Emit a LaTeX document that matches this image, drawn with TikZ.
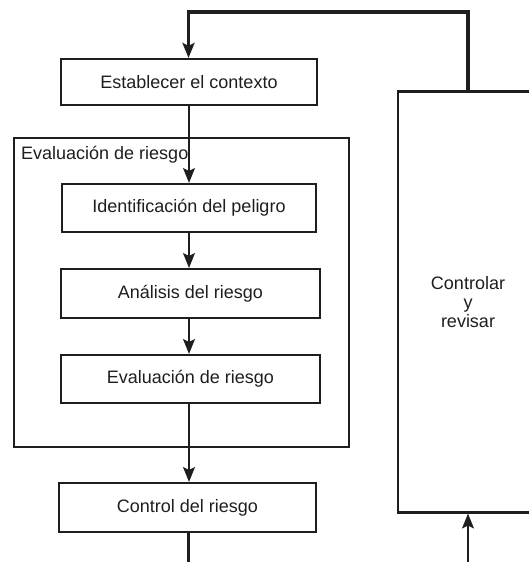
\documentclass[tikz,border=0pt]{standalone}
\usepackage{fontspec}
\setmainfont{Liberation Sans}
\usetikzlibrary{arrows.meta}
\definecolor{ink}{HTML}{1E1E1E}
\begin{document}
\begin{tikzpicture}[x=1pt,y=-1pt, color=ink,
  txt/.style={font=\fontsize{18}{21}\selectfont, text=ink},
  box/.style={draw=ink, line width=2.1pt, inner sep=0pt, txt},
  arr/.style={draw=ink, line width=1.3pt, -{Stealth[length=15pt,width=12pt,inset=3pt]}},
  thick line/.style={draw=ink, line width=3.8pt},
  tarr/.style={draw=ink, line width=3.8pt, -{Stealth[length=15pt,width=12pt,inset=3pt]}}]
\useasboundingbox (0,0) rectangle (528,562);
\node[box, minimum width=256pt, minimum height=46pt] (est) at (189,82) {Establecer el contexto};
\draw[draw=ink, line width=2.1pt] (14,138) rectangle (349,447);
\node[anchor=north west, inner sep=0pt, txt] (lab) at (21,146) {Evaluación de riesgo};
\node[box, minimum width=254pt, minimum height=48pt] (ide) at (189,208) {Identificación del peligro};
\node[box, minimum width=259pt, minimum height=49pt] (ana) at (190.5,293.5) {Análisis del riesgo};
\node[box, minimum width=259pt, minimum height=48pt] (eva) at (190.5,379) {Evaluación de riesgo};
\node[box, minimum width=257pt, minimum height=49pt] (ctl) at (187.5,507.5) {Control del riesgo};
\node[box, minimum width=140pt, minimum height=421pt, align=center, font=\fontsize{18}{19}\selectfont] (cr) at (468,302) {Controlar\\y\\revisar};
\coordinate (top) at (468,12);
\coordinate (topl) at (188.5,12);
\coordinate (bl) at (188.5,562);
\coordinate (br) at (468,562);
\draw[arr] (est.south) -- (est.south |- ide.north);
\draw[arr] (ide.south) -- (ide.south |- ana.north);
\draw[arr] (ide.south |- ana.south) -- (ide.south |- eva.north);
\draw[arr] (ide.south |- eva.south) -- (ide.south |- ctl.north);
\draw[thick line] (ctl.south -| bl) -- (bl);
\draw[arr] (br) -- (cr.south);
\draw[tarr] (cr.north) -- (top) -- (topl) -- (est.north -| topl);
\end{tikzpicture}
\end{document}
